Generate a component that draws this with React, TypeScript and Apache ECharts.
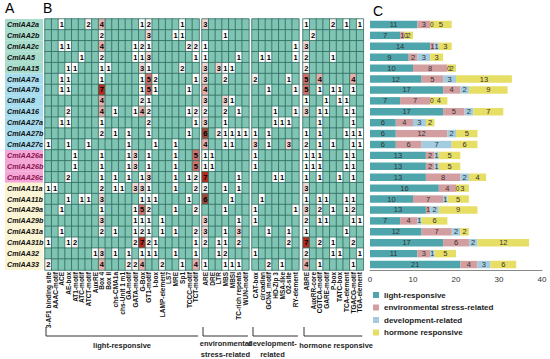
import React, { useEffect, useRef } from 'react';
import * as echarts from 'echarts';

const genes = ['CmlAA2a','CmlAA2b','CmlAA2c','CmlAA5','CmlAA15','CmlAA7a','CmlAA7b','CmlAA8','CmlAA16','CmlAA27a','CmlAA27b','CmlAA27c','CmlAA26a','CmlAA26b','CmlAA26c','CmlAA11a','CmlAA11b','CmlAA29a','CmlAA29b','CmlAA31a','CmlAA31b','CmlAA32','CmlAA33'];
// label group of each gene (colour band in panel A)
const geneGroup = [0,0,0,0,0,1,1,1,1,1,1,1,2,2,2,3,3,3,3,3,3,3,3];

const lightMotifs = ['3-AF1 binding site','AAAC-motif','ACE','AE-box','AT1-motif','ATC-motif','ATCT-motif','AuxRE','Box 4','Box II','chs-CMA1a','chs-Unit 1 m1','GA-motif','GATA-motif','G-Box','GT1-motif','I-box','LAMP-element','LS7','MRE','Sp1','TCCC-motif','TCT-motif'];
const envMotifs = ['ARE','DRE','LTR','MBS','MBSI','TC-rich repeats','WUN-motif'];
const devMotifs = ['CAT-box','circadian','GCN4_motif','HD-Zip 3','MSA-like','O2-site','RY-element'];
const hormoneMotifs = ['ABRE','AuxRR-core','CGTCA-motif','GARE-motif','P-box','TATC-box','TCA-element','TGACG-motif','TGA-element'];

const lightCounts = [
  [0,0,1,0,0,0,2,0,4,0,0,0,0,0,1,2,0,0,0,0,1,0,0],
  [0,0,0,0,0,0,0,0,2,0,0,0,0,0,0,3,0,0,0,1,1,0,0],
  [0,0,1,1,0,0,0,0,4,0,0,0,0,1,2,1,0,0,0,0,0,2,2],
  [0,0,0,0,0,1,0,0,2,0,0,0,0,1,1,3,0,0,0,0,0,0,1],
  [0,0,0,1,1,0,0,0,1,1,0,0,0,0,3,1,0,0,0,0,2,0,0],
  [0,0,1,1,0,0,0,0,1,0,0,0,0,0,1,5,2,0,0,0,0,0,1],
  [0,0,1,1,0,0,0,0,7,0,0,0,0,0,1,5,1,0,0,0,0,1,0],
  [0,0,0,0,0,0,0,0,4,0,0,0,0,0,2,1,0,0,0,0,0,0,0],
  [0,0,0,2,0,0,0,0,4,0,1,0,0,1,4,2,0,0,0,0,0,1,2],
  [0,0,1,1,0,0,0,0,1,0,0,0,0,0,0,2,0,0,0,0,0,0,1],
  [0,0,0,0,0,0,0,0,2,0,1,0,1,0,0,1,0,0,0,0,0,1,0],
  [1,0,0,1,0,0,1,0,0,0,0,0,1,0,0,0,1,0,0,1,0,0,0],
  [0,0,0,0,1,0,0,0,1,0,0,0,1,3,0,1,0,0,0,1,0,0,5],
  [0,0,0,0,1,0,0,0,1,0,0,0,1,3,0,1,0,0,0,1,0,0,5],
  [0,0,0,2,0,0,0,0,1,0,1,0,1,0,1,3,0,0,0,1,0,1,2],
  [1,1,0,0,0,0,0,0,2,0,1,1,0,3,3,1,0,0,0,1,0,0,2],
  [0,0,0,1,0,1,1,0,3,0,0,0,0,0,1,1,1,0,0,0,0,1,0],
  [0,0,1,0,0,0,0,0,1,0,0,0,0,1,5,2,0,0,0,1,0,0,2],
  [0,0,0,0,0,0,0,0,3,0,0,0,0,1,1,1,0,1,0,0,0,0,0],
  [0,0,1,0,0,0,0,0,2,0,1,0,0,1,2,1,0,1,0,1,0,0,2],
  [1,0,0,1,2,0,0,0,0,0,0,0,0,2,7,2,1,0,0,0,0,0,1],
  [0,0,0,0,0,0,0,1,3,0,1,0,1,0,1,1,1,0,0,1,0,0,1],
  [2,0,0,0,0,0,0,0,4,0,0,0,2,2,4,0,0,2,0,0,1,0,4]
];
const envCounts = [
  [3,0,0,0,0,0,0],[0,0,0,1,0,0,0],[1,0,0,0,0,0,0],[1,0,0,0,0,1,0],[3,0,3,1,1,0,0],
  [3,0,0,2,0,0,0],[4,0,0,0,0,0,0],[3,0,0,3,1,0,0],[2,0,0,2,0,1,0],[3,0,0,1,0,0,0],
  [6,0,2,1,1,1,1],[4,0,0,1,1,0,0],[1,1,0,0,0,0,0],[1,1,0,0,0,0,0],[7,0,0,0,0,1,0],
  [2,0,0,1,0,1,0],[6,0,0,0,1,0,0],[0,0,0,1,0,0,0],[3,0,0,0,0,1,0],[3,0,0,1,0,3,0],
  [2,0,1,1,0,2,0],[0,0,1,2,0,0,0],[1,0,0,1,1,1,0]
];
const devCounts = [
  [0,0,0,0,0,0,0],[0,0,0,0,0,0,0],[0,0,0,0,0,0,1],[0,1,1,0,0,0,1],[0,0,0,0,0,0,0],
  [2,0,0,0,0,1,0],[0,0,1,0,0,0,1],[0,0,0,0,0,0,0],[0,0,0,1,0,0,1],[0,0,0,1,1,1,0],
  [1,0,1,0,0,0,0],[3,0,1,0,0,3,0],[1,0,0,0,0,0,0],[1,0,0,0,0,0,0],[0,0,0,1,1,0,0],
  [0,0,0,0,0,0,0],[0,1,0,0,0,0,0],[1,0,0,0,0,0,1],[1,0,0,0,0,0,0],[0,0,1,0,0,1,0],
  [0,0,0,0,0,2,0],[1,0,0,0,0,0,0],[0,0,2,0,1,0,0]
];
const hormoneCounts = [
  [1,0,0,0,2,0,1,0,1],[0,2,0,0,0,0,0,0,0],[3,0,0,0,0,0,0,0,0],[2,0,0,0,1,0,0,0,0],
  [2,0,0,0,0,0,0,0,0],[5,0,4,0,0,0,0,4,0],[5,0,1,0,1,1,0,1,0],[1,0,0,1,0,1,1,0,0],
  [3,0,1,1,0,0,1,1,0],[0,0,1,0,0,0,0,1,0],[1,0,1,0,0,0,1,1,1],[2,0,1,0,1,0,0,1,1],
  [1,1,1,0,0,0,1,1,0],[1,1,1,0,0,0,1,1,0],[1,0,1,0,0,1,0,1,0],[3,0,0,0,0,0,0,0,0],
  [1,0,1,1,0,0,1,1,0],[3,0,2,0,1,0,1,2,0],[2,0,1,1,0,0,0,1,1],[1,0,0,0,0,0,1,0,0],
  [7,0,2,0,1,0,0,2,0],[2,0,0,0,1,1,0,0,1],[4,0,1,0,0,0,0,1,0]
];

const categoryNames = ['light-responsive','environmental stress-related','development-related','hormone responsive'];
const lightTotals = [11,7,14,9,10,12,17,7,17,6,6,6,13,13,13,16,10,13,7,12,17,11,21];
const envTotals = [3,1,1,2,8,5,4,7,5,4,12,6,2,2,8,4,7,1,4,7,6,3,4];
const devTotals = [0,0,1,3,0,3,2,0,2,3,2,7,1,1,2,0,1,2,1,2,2,1,3];
const hormoneTotals = [5,2,3,3,2,13,9,4,7,2,5,6,5,5,4,3,5,9,6,2,12,5,6];
const barTicks = [0, 10, 20, 30, 40];

const groupLabels = ['light-responsive', 'environmental\nstress-related', 'development-\nrelated', 'hormone responsive'];
const groupLabelShift = [0, 0, -3, 3];

const FONT = 'Arial, "Liberation Sans", sans-serif';
const cellColors = ['#80c4b4', '#ffffff', '#fbf3f3', '#f2d5d3', '#e6aeaa', '#d3706c', '#9c4a3a', '#b82a1e'];
const geneBg = ['#a8dccb', '#a6dcee', '#f4a6d6', '#faf4d2'];
const geneFg = ['#111111', '#111111', '#8a1450', '#111111'];
const barColors = ['#4ea5ab', '#d39ea0', '#a4cce0', '#e7de66'];

const blocks = [
  { motifs: lightMotifs, counts: lightCounts, left: 45 },
  { motifs: envMotifs, counts: envCounts, left: 202 },
  { motifs: devMotifs, counts: devCounts, left: 252 },
  { motifs: hormoneMotifs, counts: hormoneCounts, left: 303 },
];
const CELL_W = 6.7;
const TOP = 19;
const HEIGHT = 251;

export default function App() {
  const ref = useRef<HTMLDivElement>(null);
  useEffect(() => {
    document.body.style.margin = '0';
    if (!ref.current) return;
    const chart = echarts.init(ref.current, null, { renderer: 'svg' });

    const grids: any[] = blocks.map((b) => ({
      left: b.left, top: TOP, width: b.motifs.length * CELL_W, height: HEIGHT,
    }));
    grids.push({ left: 370, top: TOP, width: 172, height: HEIGHT });

    const xAxes: any[] = blocks.map((b, i) => ({
      type: 'category', gridIndex: i, data: b.motifs, position: 'bottom',
      axisLine: { show: false }, axisTick: { show: false }, splitLine: { show: false },
      axisLabel: { interval: 0, rotate: 90, fontSize: 6.5, fontWeight: 'bold', color: '#111', margin: 2, fontFamily: FONT },
    }));
    xAxes.push({
      type: 'value', gridIndex: 4, min: 0, max: 40, interval: 10,
      axisLine: { show: true, lineStyle: { color: '#888' } }, axisTick: { show: false },
      splitLine: { show: false },
      axisLabel: { fontSize: 8, color: '#333', margin: 5, fontFamily: FONT, customValues: barTicks },
    });

    const rich: any = {};
    geneBg.forEach((bg, g) => {
      rich['g' + g] = {
        backgroundColor: bg, width: 36, height: 11, lineHeight: 11, padding: [0, 0, 0, 2],
        fontSize: 7.2, fontStyle: 'italic', fontWeight: 'bold', color: geneFg[g], fontFamily: FONT, align: 'left',
      };
    });

    const yAxes: any[] = blocks.map((b, i) => ({
      type: 'category', gridIndex: i, data: genes, inverse: true,
      axisLine: { show: false }, axisTick: { show: false }, splitLine: { show: false },
      axisLabel: i === 0 ? {
        show: true, interval: 0, align: 'left', margin: 40,
        formatter: (v: string, idx: number) => `{g${geneGroup[idx]}|${v}}`, rich,
      } : { show: false },
    }));
    yAxes.push({ type: 'category', gridIndex: 4, data: genes, inverse: true, show: false });

    const series: any[] = blocks.map((b, i) => {
      const data: any[] = [];
      b.counts.forEach((row, r) => row.forEach((v, c) => data.push([c, r, v])));
      return {
        type: 'heatmap', xAxisIndex: i, yAxisIndex: i, data,
        itemStyle: { borderColor: '#2f6c60', borderWidth: 0.8 },
        label: {
          show: true, fontSize: 7.5, fontWeight: 'bold', color: '#000', fontFamily: FONT,
          formatter: (p: any) => (p.value[2] > 0 ? String(p.value[2]) : ''),
        },
        emphasis: { disabled: true },
      };
    });
    const totals = [lightTotals, envTotals, devTotals, hormoneTotals];
    totals.forEach((arr, k) => {
      series.push({
        type: 'bar', name: categoryNames[k], stack: 'total', xAxisIndex: 4, yAxisIndex: 4,
        data: arr.map((v) => (v === 0
          ? { value: v, label: { fontSize: 6.5, offset: [1.5, 0] } }
          : v)),
        barWidth: '68%', itemStyle: { color: barColors[k] },
        label: { show: true, position: 'inside', fontSize: 7.5, color: '#333', fontFamily: FONT },
      });
    });

    const graphic: any[] = [
      { type: 'text', x: 5, y: 1, style: { text: 'A', font: '14px Arial', fill: '#000' } },
      { type: 'text', x: 43, y: 1, style: { text: 'B', font: '14px Arial', fill: '#000' } },
      { type: 'text', x: 373, y: 4, style: { text: 'C', font: '14px Arial', fill: '#000' } },
    ];
    blocks.forEach((b, i) => {
      const x0 = b.left;
      const x1 = b.left + b.motifs.length * CELL_W;
      graphic.push({ type: 'line', shape: { x1: x0 + 1, y1: 327, x2: x0 + 1, y2: 336 }, style: { stroke: '#333', lineWidth: 1 } });
      graphic.push({ type: 'line', shape: { x1: x0 + 1, y1: 336, x2: x1 - 1, y2: 336 }, style: { stroke: '#333', lineWidth: 1 } });
      const twoLine = groupLabels[i].includes('\n');
      graphic.push({
        type: 'text', x: (x0 + x1) / 2 + groupLabelShift[i], y: twoLine ? 338 : 340,
        style: {
          text: groupLabels[i], font: 'bold 7.5px Arial', fill: '#222',
          align: 'center', textAlign: 'center', lineHeight: 11,
        },
      });
    });

    chart.setOption({
      animation: false,
      textStyle: { fontFamily: FONT },
      grid: grids,
      xAxis: xAxes,
      yAxis: yAxes,
      visualMap: {
        type: 'piecewise', show: false, seriesIndex: [0, 1, 2, 3], dimension: 2,
        pieces: cellColors.map((color, v) => ({ value: v, color })),
      },
      legend: {
        data: categoryNames, orient: 'vertical', left: 368, top: 286,
        itemWidth: 6, itemHeight: 6, itemGap: 4.5, icon: 'rect',
        textStyle: { fontSize: 8, fontWeight: 'bold', color: '#222', lineHeight: 8, fontFamily: FONT },
      },
      series,
      graphic,
    });
    return () => chart.dispose();
  }, []);
  return <div ref={ref} style={{ width: 550, height: 359 }} />;
}
